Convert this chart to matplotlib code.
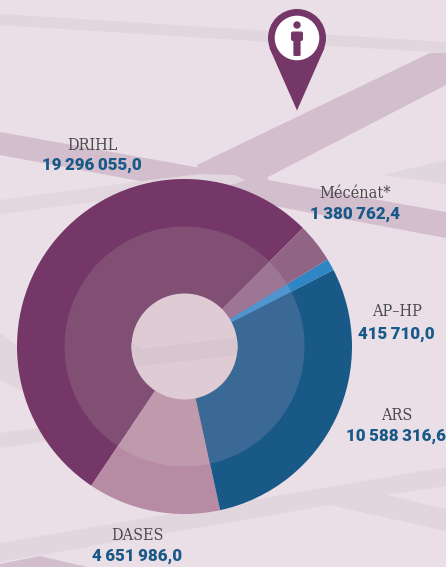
import matplotlib
matplotlib.use("Agg")
import matplotlib.pyplot as plt
from matplotlib.patches import Polygon, Circle, FancyBboxPatch

W, H = 446, 567

# Data
categories = ["DRIHL", "DASES", "ARS", "AP\u2013HP", "Mécénat*"]
values = [19296055.0, 4651986.0, 10588316.6, 415710.0, 1380762.4]
value_labels = ["19\u2009296\u2009055,0", "4\u2009651\u2009986,0", "10\u2009588\u2009316,6",
                "415\u2009710,0", "1\u2009380\u2009762,4"]
outer_colors = ["#743767", "#b78ba4", "#195987", "#2e86c5", "#916485"]
inner_colors = ["#814f74", "#bf99ac", "#3b6996", "#5095cf", "#9c7694"]
label_pos = [(92, 145, 165), (137, 535, 556), (397, 415, 436), (397, 312, 334), (355, 193, 214)]

BG = "#eadfe6"
ROAD_DARK = "#d2becd"
ROAD_LIGHT = "#e1d6dd"
HOLE = "#decbd3"
CX, CY, R_OUT, R_MID, R_IN = 184.5, 346.5, 167.5, 120, 53


def Y(y):
    return H - y


def poly(pts, color, z=1, **kw):
    return ax.add_patch(Polygon([(x, Y(y)) for x, y in pts], closed=True, fc=color, ec="none", zorder=z, **kw))


fig = plt.figure(figsize=(W / 100, H / 100), dpi=100, facecolor=BG)
ax = fig.add_axes([0, 0, 1, 1])
ax.set_facecolor(BG)

# Background roads
poly([(0, 14), (446, 42), (446, 53), (0, 25)], ROAD_LIGHT)
poly([(382, 175), (446, 160), (446, 184)], "#e0d6dd")
poly([(0, 333), (30, 355), (30, 395), (0, 380)], ROAD_LIGHT)
poly([(0, 433), (50, 426), (50, 441), (0, 448)], ROAD_LIGHT)
poly([(0, 543), (446, 467), (446, 486), (387, 495), (446, 509), (446, 531), (330, 505), (0, 562)], ROAD_LIGHT)
poly([(0, 132), (446, 212), (446, 238), (0, 155)], ROAD_DARK)
poly([(197, 165), (430, 53), (446, 53), (446, 85), (268, 177), (268, 190), (200, 190)], ROAD_DARK)
poly([(0, 564), (40, 556), (87, 567), (0, 567)], ROAD_DARK)
poly([(0, 200), (150, 180), (200, 174), (235, 175), (245, 180), (235, 184), (0, 214)], "#e2d7de", z=1.5)

# Donut
center = (CX, Y(CY))
ax.pie(values, colors=outer_colors, startangle=45, counterclock=True, center=center, radius=R_OUT,
       frame=True, wedgeprops=dict(linewidth=0, antialiased=True, zorder=3))
ax.pie(values, colors=inner_colors, startangle=45, counterclock=True, center=center, radius=R_MID,
       frame=True, wedgeprops=dict(linewidth=0, antialiased=True, zorder=3.5))

# Hole with the road seen through it
hole = Circle(center, R_IN, fc=HOLE, ec="none", zorder=4)
ax.add_patch(hole)
hole_road = poly([(128, 341), (143, 349), (240, 337), (240, 355), (130, 367)], "#d7c5d0", z=4.5)
hole_road.set_clip_path(hole)

# Pin marker
PIN = "#743767"
px, py = 297, 38
ax.add_patch(Circle((px, Y(py)), 29, fc=PIN, ec="none", zorder=6))
poly([(px - 27.5, py + 10), (px + 27.5, py + 10), (px, 110.5)], PIN, z=6)
ax.add_patch(Circle((px, Y(py)), 22.3, fc="white", ec="none", zorder=7))
ax.add_patch(Circle((px, Y(25)), 3.7, fc=PIN, ec="none", zorder=8))
ax.add_patch(FancyBboxPatch((px - 6, Y(41)), 12, 9.5, boxstyle="round,pad=0,rounding_size=2", fc=PIN, ec="none", zorder=8))
ax.add_patch(FancyBboxPatch((px - 3.6, Y(56)), 7.2, 20, boxstyle="round,pad=0,rounding_size=1.2", fc=PIN, ec="none", zorder=8))

# Labels
for cat, val, (x, y1, y2) in zip(categories, value_labels, label_pos):
    ax.text(x, Y(y1), cat, ha="center", va="center", fontsize=11.6, color="#4a4a4a",
            family=["DejaVu Serif"], stretch="condensed", zorder=9)
    ax.text(min(x, 396), Y(y2), val, ha="center", va="center", fontsize=12.2, color="#195987",
            family=["Roboto", "DejaVu Sans"], fontweight="black", zorder=9)

ax.set_xlim(0, W)
ax.set_ylim(0, H)
ax.set_aspect("auto")
ax.axis("off")
fig.savefig("out.png", dpi=100, facecolor=BG)
